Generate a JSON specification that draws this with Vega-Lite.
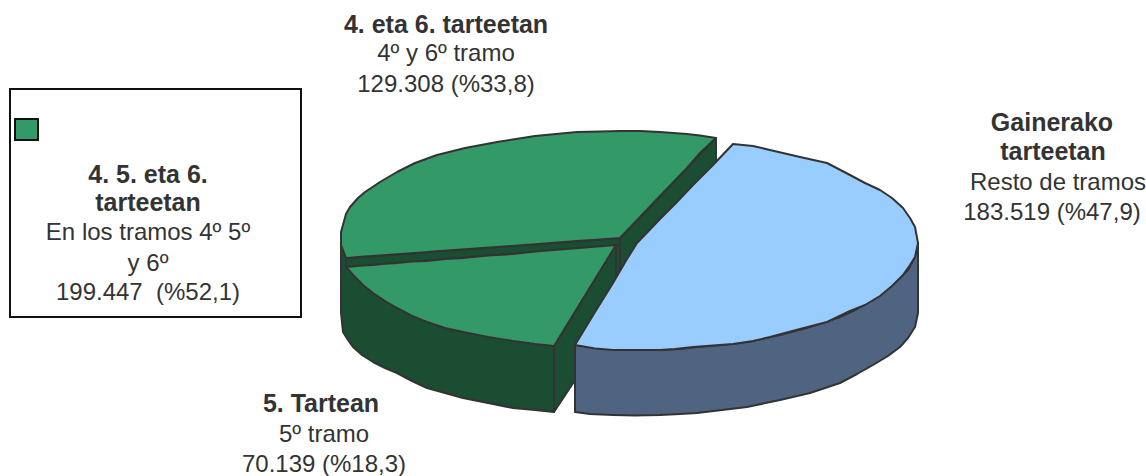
{
"$schema":"https://vega.github.io/schema/vega-lite/v6.json",
"width":1146,"height":476,"padding":0,
"autosize":{"type":"none"},
"background":"white",
"view":{"stroke":null},
"datasets":{
"shapes":[
{"part":"lado5","x":341,"y":240,"y2":313},{"part":"lado5","x":343,"y":245,"y2":332},{"part":"lado5","x":348,"y":258,"y2":340},{"part":"lado5","x":353,"y":257,"y2":347},{"part":"lado5","x":362,"y":257,"y2":355},{"part":"lado5","x":373,"y":256,"y2":362},{"part":"lado5","x":385,"y":255,"y2":368},{"part":"lado5","x":397,"y":254,"y2":373},{"part":"lado5","x":412,"y":253,"y2":381},{"part":"lado5","x":427,"y":252,"y2":388},{"part":"lado5","x":445,"y":250,"y2":393},{"part":"lado5","x":463,"y":249,"y2":398},{"part":"lado5","x":488,"y":247,"y2":403},{"part":"lado5","x":513,"y":245,"y2":408},{"part":"lado5","x":535,"y":244,"y2":410},{"part":"lado5","x":554,"y":242,"y2":412},
{"part":"hueco","x":616,"y":240,"y2":285},{"part":"hueco","x":620,"y":238,"y2":285},
{"part":"corte46","x":620,"y":238,"y2":285},{"part":"corte46","x":716,"y":138,"y2":165},
{"part":"corte5","x":554,"y":346,"y2":412},{"part":"corte5","x":616,"y":245,"y2":318},
{"part":"franja","x":346,"y":258,"y2":267},{"part":"franja","x":620,"y":238,"y2":245},
{"part":"cara46","x":341,"y":232,"y2":245},{"part":"cara46","x":346,"y":214,"y2":258},{"part":"cara46","x":350,"y":207,"y2":257.7},{"part":"cara46","x":358,"y":198,"y2":257.1},{"part":"cara46","x":365,"y":192,"y2":256.6},{"part":"cara46","x":380,"y":182,"y2":255.5},{"part":"cara46","x":397,"y":172,"y2":254.3},{"part":"cara46","x":415,"y":163,"y2":253},{"part":"cara46","x":437,"y":155,"y2":251.3},{"part":"cara46","x":465,"y":148,"y2":249.3},{"part":"cara46","x":497,"y":142,"y2":247},{"part":"cara46","x":535,"y":136,"y2":244.2},{"part":"cara46","x":577,"y":132,"y2":241},{"part":"cara46","x":600,"y":131.5,"y2":239.5},{"part":"cara46","x":620,"y":131,"y2":238},{"part":"cara46","x":640,"y":131,"y2":217},{"part":"cara46","x":660,"y":132,"y2":196},{"part":"cara46","x":687,"y":134,"y2":168},{"part":"cara46","x":700,"y":135.5,"y2":153},{"part":"cara46","x":716,"y":138,"y2":138},
{"part":"cara5","x":346,"y":267,"y2":267},{"part":"cara5","x":355,"y":266.3,"y2":277},{"part":"cara5","x":363,"y":265.6,"y2":285},{"part":"cara5","x":373,"y":265,"y2":293},{"part":"cara5","x":385,"y":263.8,"y2":301},{"part":"cara5","x":397,"y":263,"y2":308},{"part":"cara5","x":412,"y":261.6,"y2":316},{"part":"cara5","x":427,"y":261,"y2":322},{"part":"cara5","x":445,"y":258.9,"y2":328},{"part":"cara5","x":463,"y":258,"y2":332},{"part":"cara5","x":488,"y":255.4,"y2":337},{"part":"cara5","x":513,"y":254,"y2":341},{"part":"cara5","x":535,"y":251.6,"y2":344},{"part":"cara5","x":554,"y":250,"y2":346},{"part":"cara5","x":616,"y":245,"y2":245},
{"part":"ladoResto","x":575,"y":345,"y2":412},{"part":"ladoResto","x":590,"y":347,"y2":414},{"part":"ladoResto","x":613,"y":350,"y2":415},{"part":"ladoResto","x":635,"y":350,"y2":415.5},{"part":"ladoResto","x":660,"y":350,"y2":415},{"part":"ladoResto","x":680,"y":349,"y2":414},{"part":"ladoResto","x":697,"y":347,"y2":413},{"part":"ladoResto","x":722,"y":345,"y2":410},{"part":"ladoResto","x":747,"y":342,"y2":407},{"part":"ladoResto","x":780,"y":335,"y2":400},{"part":"ladoResto","x":810,"y":327,"y2":393},{"part":"ladoResto","x":825,"y":322,"y2":388},{"part":"ladoResto","x":840,"y":317,"y2":383},{"part":"ladoResto","x":857,"y":309,"y2":374},{"part":"ladoResto","x":873,"y":300,"y2":365},{"part":"ladoResto","x":888,"y":289,"y2":356},{"part":"ladoResto","x":900,"y":278,"y2":347},{"part":"ladoResto","x":908,"y":270,"y2":338},{"part":"ladoResto","x":915,"y":257,"y2":327},{"part":"ladoResto","x":918,"y":243,"y2":313},
{"part":"caraResto","x":575,"y":345,"y2":345},{"part":"caraResto","x":595,"y":312,"y2":348.5},{"part":"caraResto","x":613,"y":283,"y2":350},{"part":"caraResto","x":627,"y":259,"y2":350},{"part":"caraResto","x":637,"y":243,"y2":350},{"part":"caraResto","x":650,"y":229.5,"y2":350},{"part":"caraResto","x":660,"y":219,"y2":350},{"part":"caraResto","x":675,"y":204,"y2":349},{"part":"caraResto","x":693,"y":185,"y2":347},{"part":"caraResto","x":713,"y":165,"y2":345.5},{"part":"caraResto","x":733,"y":144,"y2":344},{"part":"caraResto","x":753,"y":146,"y2":341},{"part":"caraResto","x":770,"y":150,"y2":337},{"part":"caraResto","x":800,"y":157,"y2":329},{"part":"caraResto","x":827,"y":163,"y2":322},{"part":"caraResto","x":850,"y":175,"y2":311},{"part":"caraResto","x":865,"y":183,"y2":305},{"part":"caraResto","x":880,"y":190,"y2":296},{"part":"caraResto","x":892,"y":198,"y2":286},{"part":"caraResto","x":903,"y":208,"y2":275},{"part":"caraResto","x":910,"y":218,"y2":265},{"part":"caraResto","x":915,"y":227,"y2":257},{"part":"caraResto","x":918,"y":243,"y2":243}
],
"labels":[
{"x":446,"y":25,"t":"4. eta 6. tarteetan","b":"bold"},{"x":446,"y":54,"t":"4º y 6º tramo","b":"normal"},{"x":446,"y":85,"t":"129.308 (%33,8)","b":"normal"},
{"x":1052,"y":123,"t":"Gainerako","b":"bold"},{"x":1053,"y":152,"t":"tarteetan","b":"bold"},{"x":1058,"y":183,"t":"Resto de tramos","b":"normal"},{"x":1052,"y":213,"t":"183.519 (%47,9)","b":"normal"},
{"x":321,"y":404,"t":"5. Tartean","b":"bold"},{"x":324,"y":435,"t":"5º tramo","b":"normal"},{"x":324,"y":465,"t":"70.139 (%18,3)","b":"normal"},
{"x":148,"y":175,"t":"4. 5. eta 6.","b":"bold"},{"x":148,"y":203,"t":"tarteetan","b":"bold"},{"x":148,"y":233,"t":"En los tramos 4º 5º","b":"normal"},{"x":148,"y":264,"t":"y 6º","b":"normal"},{"x":148,"y":293,"t":"199.447\u00a0 (%52,1)","b":"normal"}
]
},
"encoding":{},
"layer":[
{"data":{"values":[{"x":10,"x2":301,"y":89,"y2":317}]},
 "mark":{"type":"rect","fill":"white","stroke":"#111111","strokeWidth":2},
 "encoding":{"x":{"field":"x","type":"quantitative","scale":{"domain":[0,1146],"nice":false},"axis":null},"x2":{"field":"x2"},"y":{"field":"y","type":"quantitative","scale":{"domain":[476,0],"nice":false},"axis":null},"y2":{"field":"y2"}}},
{"data":{"values":[{"x":15,"x2":38,"y":119,"y2":140}]},
 "mark":{"type":"rect","fill":"#339966","stroke":"#111111","strokeWidth":2},
 "encoding":{"x":{"field":"x","type":"quantitative","axis":null},"x2":{"field":"x2"},"y":{"field":"y","type":"quantitative","axis":null},"y2":{"field":"y2"}}},
{"data":{"name":"shapes"},
 "mark":{"type":"area","stroke":"#333333","strokeWidth":2,"strokeJoin":"round","opacity":1},
 "encoding":{
  "x":{"field":"x","type":"quantitative","axis":null},
  "y":{"field":"y","type":"quantitative","axis":null},
  "y2":{"field":"y2"},
  "color":{"field":"part","type":"nominal","legend":null,"scale":{"domain":["lado5","hueco","corte46","corte5","franja","cara46","cara5","ladoResto","caraResto"],"range":["#1B4D33","#1B4D33","#1B4D33","#1B4D33","#1B4D33","#339966","#339966","#4F6480","#99CCFF"]}}}},
{"data":{"name":"labels"},
 "transform":[{"filter":"datum.b === 'normal'"}],
 "mark":{"type":"text","font":"Liberation Sans","fontSize":24,"fill":"#333333","align":"center","baseline":"middle"},
 "encoding":{
  "x":{"field":"x","type":"quantitative","axis":null},
  "y":{"field":"y","type":"quantitative","axis":null},
  "text":{"field":"t"}}},
{"data":{"name":"labels"},
 "transform":[{"filter":"datum.b === 'bold'"}],
 "mark":{"type":"text","font":"Liberation Sans","fontSize":25,"fontWeight":"bold","fill":"#333333","align":"center","baseline":"middle"},
 "encoding":{
  "x":{"field":"x","type":"quantitative","axis":null},
  "y":{"field":"y","type":"quantitative","axis":null},
  "text":{"field":"t"}}}
]
}
